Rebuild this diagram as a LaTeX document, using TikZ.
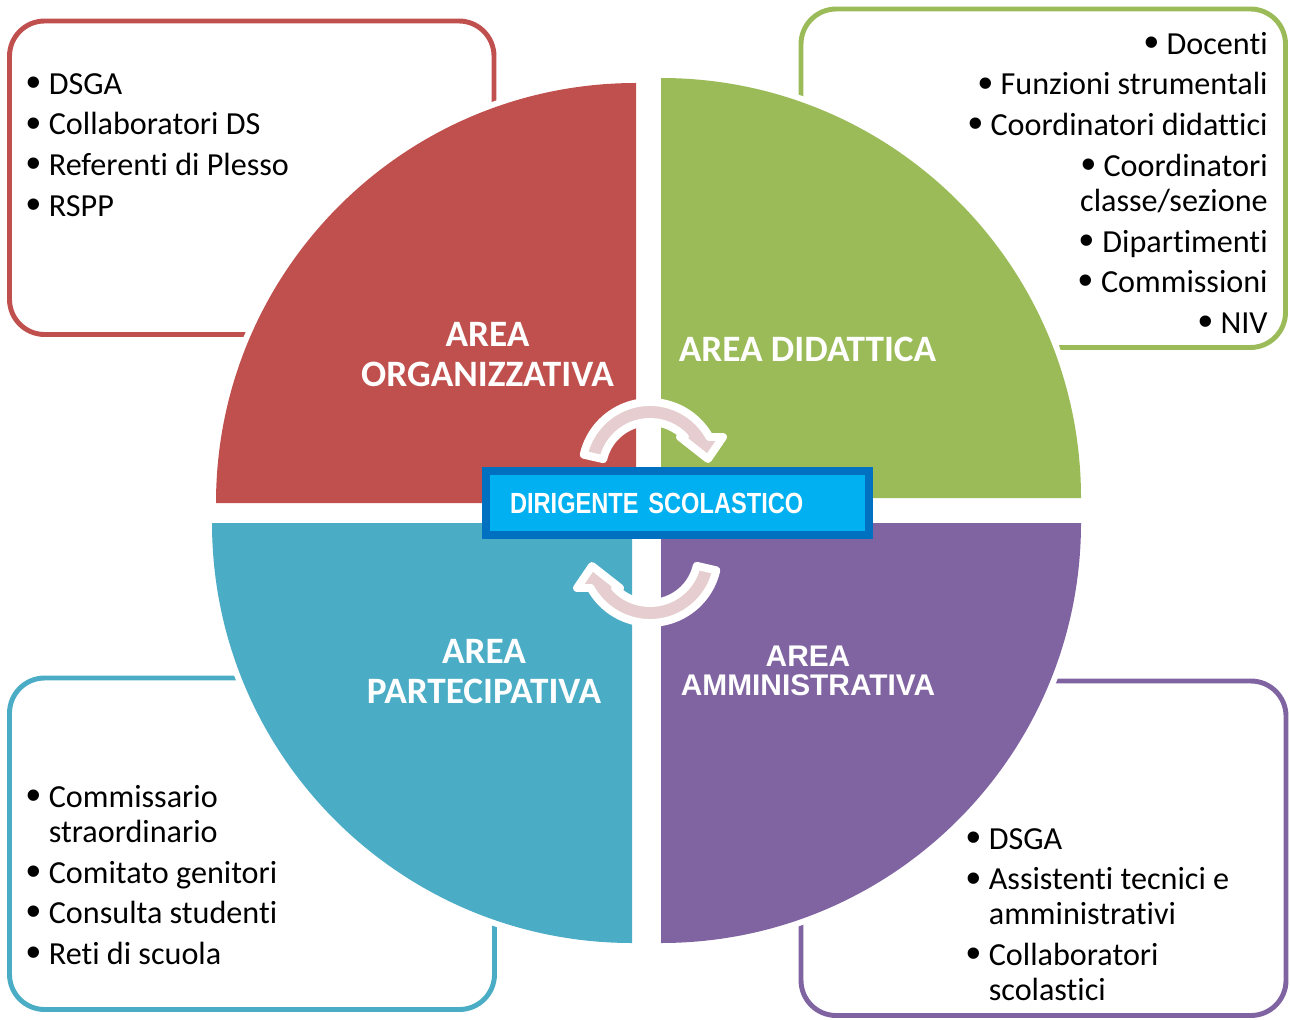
\documentclass[tikz,border=0pt]{standalone}
\usepackage{fontspec}
\usepackage{graphicx}
\setmainfont[Ligatures=NoCommon]{Carlito}
\newfontfamily\arialfont{Liberation Sans}
\newfontfamily\narrowfont[FakeStretch=0.81]{Liberation Sans}
\usepackage{xcolor}

\definecolor{orgred}{HTML}{C0504D}
\definecolor{didgreen}{HTML}{9BBB59}
\definecolor{partteal}{HTML}{4BACC6}
\definecolor{ammpurple}{HTML}{8064A2}
\definecolor{dscyan}{HTML}{00B0F0}
\definecolor{dsblue}{HTML}{0070C0}
\definecolor{turnpink}{HTML}{E6CED0}

\newcommand{\bul}{\makebox[12.8pt][l]{\raisebox{-1.2pt}{\scalebox{1.3}{\arialfont\textbullet}}}}

\begin{document}
\begin{tikzpicture}[x=0.02cm,y=0.02cm]
    \tikzstyle{listbox} = [line width=2.8pt, rounded corners=20pt]
    \tikzstyle{quarter} = [preaction={fill=white, draw=white, line width=6.8pt}]
    \tikzstyle{items} = [inner sep=0pt, font=\fontsize{18.3}{19.8}\selectfont]
    \tikzstyle{arealabel} = [inner sep=0pt, text=white, align=center,
               font=\fontsize{21.2}{22.7}\selectfont\bfseries]
    \tikzstyle{dsbox} = [draw=dsblue, fill=dscyan, line width=4.5pt,
               text=white, align=left, text width=6.7cm, inner xsep=0.48cm,
               minimum height=1.28cm,
               font=\narrowfont\fontsize{16.6}{18}\selectfont\bfseries]
    \tikzstyle{turn} = [fill=turnpink, draw=white, line width=4.5pt, line join=round]

    \useasboundingbox (0,0) rectangle (1290,1019);

    % Define outer boxes
    \draw[listbox, draw=orgred] (9.5,998) rectangle (494,684.5);
    \draw[listbox, draw=didgreen] (801,1010) rectangle (1285.5,671.5);
    \draw[listbox, draw=partteal] (9.5,341) rectangle (494.5,9.5);
    \draw[listbox, draw=ammpurple] (801,338) rectangle (1286,3.5);

    % Define quarters
    \fill[quarter, orgred] (636,516) -- (216,516) arc[start angle=180, end angle=90, radius=420] -- cycle;
    \fill[quarter, didgreen] (661,521) -- (661,941) arc[start angle=90, end angle=0, radius=420] -- cycle;
    \fill[quarter, partteal] (632,496) -- (212,496) arc[start angle=180, end angle=270, radius=420] -- cycle;
    \fill[quarter, ammpurple] (661,496) -- (1081,496) arc[start angle=0, end angle=-90, radius=420] -- cycle;

    \node[arealabel, anchor=north] (orglabel) at (487.5,697) {AREA\\ORGANIZZATIVA};
    \node[arealabel, anchor=north] (didlabel) at (807.5,682) {AREA DIDATTICA};
    \node[arealabel, anchor=north] (partlabel) at (484,380) {AREA\\PARTECIPATIVA};
    \node[arealabel, anchor=north, font=\arialfont\fontsize{17}{16.4}\selectfont\bfseries]
      (ammlabel) at (808,373) {AREA\\AMMINISTRATIVA};

    % Define lists
    \node[items, anchor=north west, align=left] (orglist) at (26,946)
      {\bul DSGA\\[3.4pt]\bul Collaboratori DS\\[3.4pt]\bul Referenti di Plesso\\[3.4pt]\bul RSPP};
    \node[items, anchor=north east, align=right] (didlist) at (1268,987.3)
      {\bul Docenti\\[3.4pt]\bul Funzioni strumentali\\[3.4pt]\bul Coordinatori didattici\\[3.4pt]%
       \bul Coordinatori\\classe/sezione\\[3.4pt]\bul Dipartimenti\\[3.4pt]\bul Commissioni\\[3.4pt]\bul NIV};
    \node[items, anchor=north west, align=left] (partlist) at (26,234)
      {\bul Commissario\\\phantom{\bul}straordinario\\[3.4pt]\bul Comitato genitori\\[3.4pt]%
       \bul Consulta studenti\\[3.4pt]\bul Reti di scuola};
    \node[items, anchor=north west, align=left] (ammlist) at (966,191)
      {\bul DSGA\\[3.4pt]\bul Assistenti tecnici e\\\phantom{\bul}amministrativi\\[3.4pt]%
       \bul Collaboratori\\\phantom{\bul}scolastici};

    % Dirigente and turning arrows
    \node[dsbox] (ds) at (677.5,516) {DIRIGENTE SCOLASTICO};

    \draw[turn] (583.7,564.3) arc[start angle=167, end angle=29, radius=68]
      -- (723,582) -- (708,560) -- (680,582) -- (684.9,582)
      arc[start angle=43.4, end angle=167, radius=48] -- cycle;
    \draw[turn, rotate around={180:(650,506.5)}] (583.7,564.3) arc[start angle=167, end angle=29, radius=68]
      -- (723,582) -- (708,560) -- (680,582) -- (684.9,582)
      arc[start angle=43.4, end angle=167, radius=48] -- cycle;

\end{tikzpicture}
\end{document}
